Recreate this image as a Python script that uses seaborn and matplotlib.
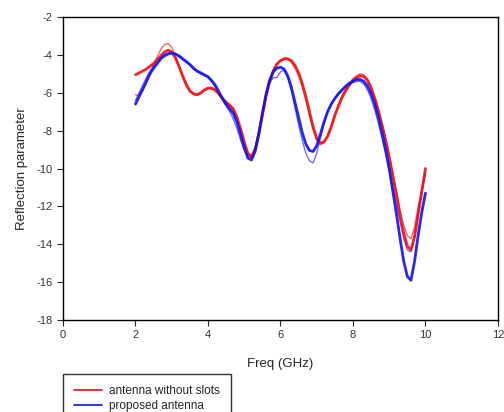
import numpy as np
import pandas as pd
import matplotlib
matplotlib.use("Agg")
import matplotlib.pyplot as plt
import seaborn as sns
from matplotlib.lines import Line2D

freq = [round(2.0 + 0.1 * i, 1) for i in range(81)]

# antenna without slots (main trace)
red_main = [-5.05, -4.95, -4.85, -4.75, -4.6, -4.45, -4.25, -4.05, -3.85, -3.75,
            -3.85, -4.15, -4.6, -5.1, -5.55, -5.9, -6.05, -6.1, -6.0, -5.85,
            -5.75, -5.75, -5.85, -6.05, -6.3, -6.5, -6.65, -6.85, -7.3, -7.9,
            -8.6, -9.2, -9.4, -9.0, -8.2, -7.2, -6.2, -5.4, -4.85, -4.5,
            -4.3, -4.2, -4.2, -4.3, -4.55, -4.95, -5.5, -6.2, -7.0, -7.8,
            -8.4, -8.65, -8.6, -8.3, -7.8, -7.2, -6.7, -6.25, -5.9, -5.6,
            -5.35, -5.2, -5.1, -5.15, -5.35, -5.75, -6.3, -6.95, -7.7, -8.5,
            -9.4, -10.4, -11.4, -12.5, -13.4, -14.1, -14.3, -13.6, -12.4, -11.2,
            -10.0]

# antenna without slots (second trace)
red_alt = [-6.1, -6.15, -5.9, -5.5, -5.0, -4.55, -4.1, -3.7, -3.45, -3.4,
           -3.6, -4.05, -4.6, -5.2, -5.65, -5.95, -6.1, -6.15, -6.05, -5.9,
           -5.8, -5.8, -5.9, -6.1, -6.35, -6.55, -6.7, -6.95, -7.4, -8.0,
           -8.7, -9.2, -9.3, -8.9, -8.1, -7.1, -6.1, -5.35, -4.8, -4.45,
           -4.3, -4.25, -4.25, -4.4, -4.7, -5.1, -5.7, -6.4, -7.2, -7.95,
           -8.5, -8.75, -8.65, -8.3, -7.75, -7.15, -6.6, -6.15, -5.8, -5.5,
           -5.25, -5.1, -5.0, -5.05, -5.25, -5.65, -6.2, -6.85, -7.6, -8.4,
           -9.3, -10.2, -11.2, -12.2, -13.0, -13.55, -13.7, -13.1, -12.0, -11.1,
           -10.3]

# proposed antenna (main trace)
blue_main = [-6.6, -6.2, -5.8, -5.4, -5.0, -4.7, -4.45, -4.2, -4.05, -3.95,
             -3.9, -3.95, -4.05, -4.2, -4.35, -4.5, -4.7, -4.85, -4.95, -5.05,
             -5.15, -5.35, -5.6, -5.95, -6.3, -6.6, -6.85, -7.1, -7.55, -8.2,
             -8.9, -9.45, -9.55, -9.1, -8.2, -7.1, -6.1, -5.35, -4.9, -4.7,
             -4.65, -4.75, -5.1, -5.7, -6.5, -7.3, -8.1, -8.7, -9.05, -9.1,
             -8.8, -8.2, -7.55, -7.0, -6.6, -6.3, -6.05, -5.85, -5.65, -5.5,
             -5.4, -5.3, -5.3, -5.4, -5.65, -6.05, -6.6, -7.3, -8.1, -9.0,
             -10.0, -11.2, -12.4, -13.7, -14.9, -15.7, -15.9, -14.9, -13.5, -12.3,
             -11.3]

# proposed antenna (second trace)
blue_alt = [-6.4, -6.0, -5.6, -5.2, -4.85, -4.55, -4.3, -4.1, -3.95, -3.9,
            -3.9, -3.95, -4.1, -4.25, -4.4, -4.55, -4.75, -4.9, -5.0, -5.1,
            -5.2, -5.4, -5.7, -6.05, -6.4, -6.7, -7.0, -7.4, -7.9, -8.5,
            -9.0, -9.35, -9.4, -8.9, -8.0, -7.0, -6.1, -5.5, -5.2, -5.2,
            -4.9, -4.8, -5.2, -5.9, -6.8, -7.7, -8.5, -9.2, -9.6, -9.7,
            -9.2, -8.4, -7.6, -7.0, -6.6, -6.3, -6.05, -5.85, -5.7, -5.55,
            -5.45, -5.4, -5.4, -5.55, -5.85, -6.3, -6.9, -7.6, -8.4, -9.2,
            -10.1, -11.0, -11.9, -12.8, -13.7, -14.3, -14.4, -13.6, -12.3, -11.2,
            -10.2]

series_labels = ["antenna without slots", "proposed antenna"]
x_ticks = [0, 2, 4, 6, 8, 10, 12]
y_ticks = [-18, -16, -14, -12, -10, -8, -6, -4, -2]

sns.set_style("ticks")
plt.rcParams["font.family"] = ["Liberation Sans", "DejaVu Sans"]

fig = plt.figure(figsize=(5.04, 4.12), dpi=100)
ax = fig.add_axes([0.125, 0.2233, 0.863, 0.7354])

sns.lineplot(x=freq, y=red_alt, ax=ax, color="#ff2020", lw=1.0, alpha=0.7)
sns.lineplot(x=freq, y=blue_alt, ax=ax, color="#3030ff", lw=1.0, alpha=0.7)
sns.lineplot(x=freq, y=red_main, ax=ax, color="#ee1111", lw=2.0, alpha=0.9)
sns.lineplot(x=freq, y=blue_main, ax=ax, color="#1010ee", lw=2.0, alpha=0.9)

ax.set_xlim(0, 12)
ax.set_ylim(-18, -2)
ax.set_xticks(x_ticks)
ax.set_yticks(y_ticks)
ax.set_xticklabels([str(t) for t in x_ticks], fontsize=8, color="#333333")
ax.set_yticklabels([str(t) for t in y_ticks], fontsize=8, color="#333333")
ax.tick_params(direction="out", length=4, width=0.8, top=False, right=False)
for s in ax.spines.values():
    s.set_visible(True)
    s.set_linewidth(1.0)
    s.set_color("black")
ax.set_xlabel("Freq (GHz)", fontsize=9.5, labelpad=13)
ax.set_ylabel("Reflection parameter", fontsize=9.5, labelpad=6)

handles = [Line2D([], [], color="#dd1111", lw=1.2),
           Line2D([], [], color="#1111dd", lw=1.2)]
leg = fig.legend(handles, series_labels, loc="upper left",
                 bbox_to_anchor=(0.125, 0.092), borderaxespad=0,
                 fontsize=8.5, frameon=True, fancybox=False, edgecolor="black",
                 handlelength=2.4, handletextpad=0.6, labelspacing=0.3,
                 borderpad=0.9)
leg.get_frame().set_linewidth(1.0)

fig.savefig("out.png", dpi=100)
